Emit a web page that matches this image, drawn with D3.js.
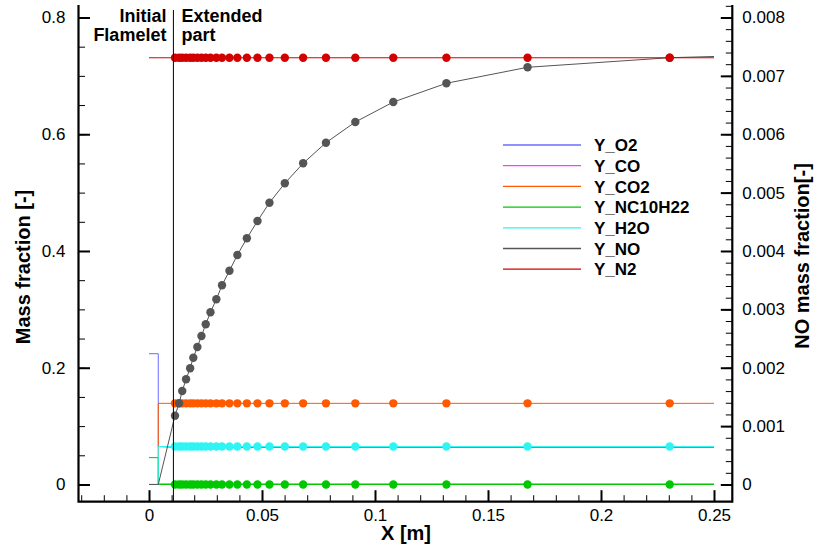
<!DOCTYPE html>
<html>
<head>
<meta charset="utf-8">
<script src="https://cdn.jsdelivr.net/npm/d3@7"></script>
<style>
  body { margin: 0; background: #fff; }
  text { font-family: "Liberation Sans", Arial, sans-serif; }
</style>
</head>
<body>
<div id="chart"></div>
<script>
// Section 1: data
var species = ["Y_O2", "Y_CO", "Y_CO2", "Y_NC10H22", "Y_H2O", "Y_NO", "Y_N2"];
var colors = ["#6b6bff", "#ff3cff", "#ff5a00", "#00c800", "#30f4f4", "#555555", "#d20000"];
// which series show symbols at the grid points
var hasMarkers = [false, false, true, true, true, true, true];

// initial flamelet part (step at the end of the flamelet)
var flameX = [0, 0.0041, 0.0041];
var flameO2 = [0.224, 0.224, 0.065];
var flameCO = [0, 0, 0.001];
var flameCO2 = [0, 0, 0.139];
var flameC10 = [0.046, 0.046, 0];
var flameH2O = [0, 0, 0.065];
var flameNO = [0, 0, 0];
var flameN2 = [0.731, 0.731, 0.731];

// extended part: grid points (with symbols) plus the end of the domain
var extX = [0.0115, 0.0133, 0.0147, 0.0164, 0.0182, 0.0196, 0.0214, 0.0232, 0.0251, 0.0272,
  0.0298, 0.0323, 0.0356, 0.0391, 0.0433, 0.0480, 0.0533, 0.0601, 0.0682, 0.0783,
  0.0913, 0.1081, 0.1316, 0.1675, 0.2304, 0.25];
var extO2 = [0.0635, 0.0635, 0.0635, 0.0635, 0.0635, 0.0635, 0.0635, 0.0635, 0.0635, 0.0635,
  0.0635, 0.0635, 0.0635, 0.0635, 0.0635, 0.0635, 0.0635, 0.0635, 0.0635, 0.0635,
  0.0635, 0.0635, 0.0635, 0.0635, 0.0635, 0.0635];
var extCO = [0.001, 0.001, 0.001, 0.001, 0.001, 0.001, 0.001, 0.001, 0.001, 0.001,
  0.001, 0.001, 0.001, 0.001, 0.001, 0.001, 0.001, 0.001, 0.001, 0.001,
  0.001, 0.001, 0.001, 0.001, 0.001, 0.001];
var extCO2 = [0.139, 0.139, 0.139, 0.139, 0.139, 0.139, 0.139, 0.139, 0.139, 0.139,
  0.139, 0.139, 0.139, 0.139, 0.139, 0.139, 0.139, 0.139, 0.139, 0.139,
  0.139, 0.139, 0.139, 0.139, 0.139, 0.139];
var extC10 = [0, 0, 0, 0, 0, 0, 0, 0, 0, 0, 0, 0, 0, 0, 0, 0, 0, 0, 0, 0, 0, 0, 0, 0, 0, 0];
var extH2O = [0.065, 0.065, 0.065, 0.065, 0.065, 0.065, 0.065, 0.065, 0.065, 0.065,
  0.065, 0.065, 0.065, 0.065, 0.065, 0.065, 0.065, 0.065, 0.065, 0.065,
  0.065, 0.065, 0.065, 0.065, 0.065, 0.065];
// NO is read on the right axis
var extNO = [0.001179, 0.001391, 0.001602, 0.001802, 0.001991, 0.002172, 0.002355, 0.002544,
  0.002744, 0.002950, 0.003173, 0.003412, 0.003662, 0.003931, 0.004218, 0.004514,
  0.004827, 0.005160, 0.005502, 0.005855, 0.006210, 0.006552, 0.006873, 0.007147,
  0.007311, 0.007332];
var extN2 = [0.731, 0.731, 0.731, 0.731, 0.731, 0.731, 0.731, 0.731, 0.731, 0.731,
  0.731, 0.731, 0.731, 0.731, 0.731, 0.731, 0.731, 0.731, 0.731, 0.731,
  0.731, 0.731, 0.731, 0.731, 0.731, 0.731];

var flameSeries = [flameO2, flameCO, flameCO2, flameC10, flameH2O, flameNO, flameN2];
var extSeries = [extO2, extCO, extCO2, extC10, extH2O, extNO, extN2];
var onRight = [false, false, false, false, false, true, false];

var boundaryX = 0.0108;
var xTicks = [0, 0.05, 0.1, 0.15, 0.2, 0.25];
var yLeftTicks = [0, 0.2, 0.4, 0.6, 0.8];
var yRightTicks = [0, 0.001, 0.002, 0.003, 0.004, 0.005, 0.006, 0.007, 0.008];

//-----------------------------------------------------------------------------------------------//
// Section 2: svg + scales
var svgWidth = 817;
var svgHeight = 546;
var plot = { left: 78.5, right: 732.3, top: 5, bottom: 501.7 };

var svg = d3.select("#chart").append("svg")
  .attr("width", svgWidth)
  .attr("height", svgHeight);

var xScale = d3.scaleLinear()
  .domain([-0.0312, 0.2581])
  .range([plot.left, plot.right]);
var yLeft = d3.scaleLinear()
  .domain([-0.0295, 0.8214])
  .range([plot.bottom, plot.top]);
var yRight = d3.scaleLinear()
  .domain([-0.000295, 0.008214])
  .range([plot.bottom, plot.top]);

//-----------------------------------------------------------------------------------------------//
// Section 3: axes (ticks point inside)
var fmt = function(d) { return d === 0 ? "0" : d3.format("~g")(d); };

function styleAxis(g, major) {
  g.select(".domain").remove();
  g.selectAll("line").attr("stroke", "#000").attr("stroke-width", major ? 2 : 1);
  g.selectAll("text").attr("font-size", 17).attr("fill", "#000");
}

// minor ticks first
svg.append("g")
  .attr("transform", `translate(0, ${plot.bottom})`)
  .call(d3.axisBottom(xScale).tickValues(d3.range(-0.03, 0.2585, 0.01)).tickSize(-6.5).tickFormat(""))
  .call(g => styleAxis(g, false));
svg.append("g")
  .attr("transform", `translate(${plot.left}, 0)`)
  .call(d3.axisLeft(yLeft).tickValues(d3.range(0, 0.821, 0.05)).tickSize(-6.5).tickFormat(""))
  .call(g => styleAxis(g, false));
svg.append("g")
  .attr("transform", `translate(${plot.right}, 0)`)
  .call(d3.axisRight(yRight).tickValues(d3.range(0, 0.00821, 0.0002)).tickSize(-6.5).tickFormat(""))
  .call(g => styleAxis(g, false));

// major ticks + labels
svg.append("g")
  .attr("transform", `translate(0, ${plot.bottom})`)
  .call(d3.axisBottom(xScale).tickValues(xTicks).tickSize(-11.5).tickPadding(7).tickFormat(fmt))
  .call(g => styleAxis(g, true));
svg.append("g")
  .attr("transform", `translate(${plot.left}, 0)`)
  .call(d3.axisLeft(yLeft).tickValues(yLeftTicks).tickSize(-11.5).tickPadding(13).tickFormat(fmt))
  .call(g => styleAxis(g, true));
svg.append("g")
  .attr("transform", `translate(${plot.right}, 0)`)
  .call(d3.axisRight(yRight).tickValues(yRightTicks).tickSize(-11.5).tickPadding(10).tickFormat(fmt))
  .call(g => styleAxis(g, true));

// axis lines (left, bottom, right - no top line)
svg.append("path")
  .attr("d", `M${plot.left},${plot.top}V${plot.bottom}H${plot.right}V${plot.top}`)
  .attr("fill", "none")
  .attr("stroke", "#000")
  .attr("stroke-width", 2.2);

//-----------------------------------------------------------------------------------------------//
// Section 4: lines + symbols
species.forEach(function(name, i) {
  var y = onRight[i] ? yRight : yLeft;
  var pts = flameX.map((x, j) => [x, flameSeries[i][j]])
    .concat(extX.map((x, j) => [x, extSeries[i][j]]));
  var line = d3.line()
    .x(d => xScale(d[0]))
    .y(d => y(d[1]));
  svg.append("path")
    .datum(pts)
    .attr("d", line)
    .attr("fill", "none")
    .attr("stroke", colors[i])
    .attr("stroke-width", 1);
  if (hasMarkers[i]) {
    // symbols only at the grid points, not at the domain end
    svg.append("g").selectAll("circle")
      .data(extX.slice(0, extX.length - 1))
      .enter()
      .append("circle")
      .attr("cx", d => xScale(d))
      .attr("cy", (d, j) => y(extSeries[i][j]))
      .attr("r", 4.2)
      .attr("fill", colors[i]);
  }
});

// boundary between the initial flamelet and the extended part
svg.append("line")
  .attr("x1", xScale(boundaryX))
  .attr("x2", xScale(boundaryX))
  .attr("y1", yLeft(0.8128))
  .attr("y2", plot.bottom)
  .attr("stroke", "#000")
  .attr("stroke-width", 1);

svg.append("text")
  .attr("text-anchor", "end")
  .attr("font-size", 18)
  .attr("font-weight", "bold")
  .selectAll("tspan")
  .data(["Initial", "Flamelet"])
  .enter()
  .append("tspan")
  .attr("x", xScale(boundaryX) - 7)
  .attr("y", (d, i) => 21.5 + i * 19)
  .text(d => d);
svg.append("text")
  .attr("text-anchor", "start")
  .attr("font-size", 18)
  .attr("font-weight", "bold")
  .selectAll("tspan")
  .data(["Extended", "part"])
  .enter()
  .append("tspan")
  .attr("x", xScale(boundaryX) + 8)
  .attr("y", (d, i) => 21.5 + i * 19)
  .text(d => d);

//-----------------------------------------------------------------------------------------------//
// Section 5: legend
var legend = svg.append("g")
  .attr("transform", "translate(503, 145)");
species.forEach(function(name, i) {
  legend.append("line")
    .attr("x1", 0)
    .attr("x2", 78)
    .attr("y1", i * 20.7)
    .attr("y2", i * 20.7)
    .attr("stroke", colors[i])
    .attr("stroke-width", 1.3);
  legend.append("text")
    .attr("x", 91)
    .attr("y", i * 20.7)
    .attr("dy", "0.36em")
    .attr("font-size", 17)
    .attr("font-weight", "bold")
    .text(name);
});

//-----------------------------------------------------------------------------------------------//
// Section 6: axis titles
svg.append("text")
  .attr("transform", "translate(30, 267) rotate(-90)")
  .attr("text-anchor", "middle")
  .attr("font-size", 20)
  .attr("font-weight", "bold")
  .text("Mass fraction [-]");
svg.append("text")
  .attr("transform", "translate(809, 256) rotate(-90)")
  .attr("text-anchor", "middle")
  .attr("font-size", 20)
  .attr("font-weight", "bold")
  .text("NO mass fraction[-]");
svg.append("text")
  .attr("x", 406)
  .attr("y", 540)
  .attr("text-anchor", "middle")
  .attr("font-size", 20)
  .attr("font-weight", "bold")
  .text("X [m]");
</script>
</body>
</html>
